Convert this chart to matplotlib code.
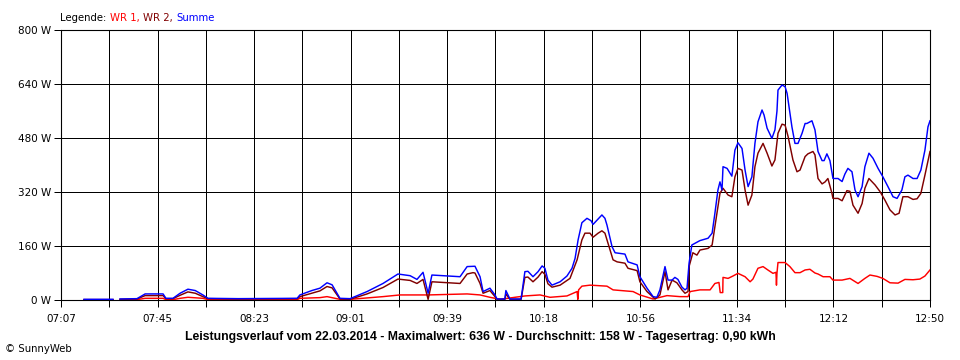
import numpy as np
import matplotlib
matplotlib.use("Agg")
import matplotlib.pyplot as plt
from matplotlib.offsetbox import TextArea, HPacker, AnchoredOffsetbox

plt.rcParams['font.family'] = ['DejaVu Sans']

# time axis: minutes after 07:07 (07:07 .. 12:50)
x_labels = ["07:07", "07:45", "08:23", "09:01", "09:39", "10:18", "10:56", "11:34", "12:12", "12:50"]
y_ticks = [0, 160, 320, 480, 640, 800]
y_labels = ["0 W", "160 W", "320 W", "480 W", "640 W", "800 W"]
t_end = 343.0

nan = np.nan

t_sum = [9.1, 20.5, 21.9, 23.3, 30, 33.2, 40.3, 41.4, 44.2, 47, 50.1, 53, 56, 58, 70, 93.2, 94.3, 99, 102.2, 105,
         107, 110.1, 114.1, 120.8, 127.1, 133, 137.8, 140.5, 142.9, 144.9, 146.4, 157.5, 160.3, 163.4, 165.4,
         166.6, 169.3, 171.3, 172.1, 175.2, 175.6, 177.2, 181.6, 183.1, 184.3, 186.3, 188.3, 189.9, 191, 192.2,
         193.8, 197, 199.7, 201.7, 202.9, 204.1, 205.6, 207.6, 209.2, 210, 211.6, 213.5, 214.7, 215.5, 217.5,
         218.7, 222.6, 223.8, 227.4, 228.5, 231.3, 233.7, 235.2, 236.4, 238.4, 239.6, 241.2, 242.3, 243.5, 245.1,
         246.3, 247.1, 247.9, 249, 250.2, 252.2, 255.4, 257, 258.1, 259.3, 260.1, 260.9, 261.3, 262.9, 264.8,
         266, 267.2, 268.8, 270, 271.2, 272.7, 273.9, 275.1, 276.7, 277.5, 278.7, 280.6, 281.8, 282.6, 283,
         284.6, 285.8, 286.6, 288.5, 289.7, 290.9, 292.5, 293.7, 294.4, 296.4, 297.6, 298.8, 300.4, 301.2, 302.3,
         303.5, 304.7, 306.7, 308.3, 309.4, 310.6, 312.2, 313.4, 314.6, 316.2, 317.3, 318.9, 320.5, 322.5, 324.4,
         326.4, 328.4, 330, 331.9, 333.1, 334.3, 336.3, 337.9, 339.4, 341, 342.2, 343]
summe = [2, 2, nan, 3, 4, 18, 18, 5, 5, 20, 32, 28, 15, 5, 4, 5, 15, 28, 35, 51,
         45, 5, 4, 25, 49, 77, 72, 61, 82, 20, 74, 69, 99, 100, 69,
         25, 35, 15, 3, 3, 28, 3, 3, 84, 85, 69, 84, 101, 94, 59,
         44, 54, 71, 94, 123, 178, 229, 242, 235, 224, 237, 252, 242, 222, 158,
         140, 136, 113, 104, 69, 35, 10, 8, 30, 99, 59, 59, 67, 61, 38,
         30, 35, 109, 163, 168, 176, 183, 198, 257, 326, 350, 326, 395, 390, 367,
         444, 466, 449, 385, 336, 365, 464, 528, 563, 548, 509, 479, 504, 560, 622,
         637, 632, 612, 513, 464, 464, 494, 523, 523, 531, 504, 440, 413, 413, 433,
         413, 360, 360, 351, 373, 390, 380, 326, 306, 336, 395, 435, 420, 390, 365,
         336, 306, 301, 326, 365, 370, 360, 360, 385, 444, 513, 531]

t_wr2 = [9.1, 20.5, 21.9, 23.3, 30, 33.2, 40.3, 41.4, 44.2, 47, 50.1, 53, 56, 58, 70, 93.2, 94.3, 99, 102.2, 105,
         107, 110.1, 114.1, 120.8, 127.1, 133, 137.8, 140.5, 142.9, 144.9, 146.4, 157.5, 160.3, 162.6, 163.4,
         165.4, 166.6, 169.3, 171.3, 172.1, 175.2, 175.6, 177.2, 181.6, 183.1, 184.3, 186.3, 188.3, 189.9, 191,
         192.2, 193.8, 197, 200.9, 203.7, 205.6, 206.8, 208.8, 210, 212, 213.5, 214.7, 215.9, 217.9, 219.5,
         222.6, 223.8, 227.4, 228.5, 231.3, 234.5, 236.4, 238.4, 239.6, 241.2, 243.1, 245.1, 246.3, 247.5, 247.9,
         249.4, 251, 252.2, 255.4, 257, 258.9, 260.1, 261.3, 263.3, 264.8, 266, 267.2, 268.8, 270, 271.2, 272.7,
         273.9, 275.1, 277.1, 278.7, 280.6, 281.8, 283, 284.6, 285.8, 287, 288.9, 290.5, 291.7, 293.7, 294.8,
         296.8, 297.6, 298.8, 300.4, 301.6, 302.7, 304.3, 304.7, 306.7, 308.3, 310.2, 311.4, 312.6, 314.6, 316.2,
         317.3, 318.9, 321.3, 323.3, 325.2, 327.2, 329.2, 330.8, 332.3, 334.3, 336.3, 337.9, 339.4, 341, 343]
wr2 = [1, 1, nan, 2, 3, 13, 13, 4, 4, 14, 24, 20, 10, 4, 3, 4, 10, 20, 27, 40,
       36, 3, 2, 18, 37, 62, 58, 49, 61, 2, 54, 49, 77, 81, 80,
       49, 20, 28, 10, 2, 2, 18, 2, 2, 67, 68, 54, 68, 84, 76,
       48, 38, 44, 64, 119, 178, 198, 198, 186, 198, 205, 198, 168, 119, 113,
       109, 94, 87, 54, 25, 3, 15, 84, 30, 59, 51, 30, 20, 25, 99,
       140, 133, 148, 153, 163, 257, 316, 331, 311, 306, 365, 390, 385, 326, 281, 311,
       395, 435, 464, 435, 397, 415, 494, 521, 518, 484, 415, 380, 385, 425, 433,
       440, 430, 360, 344, 350, 360, 316, 301, 301, 294, 324, 322, 281, 257, 286,
       331, 360, 341, 321, 296, 267, 252, 257, 306, 306, 298, 300, 316, 370, 440]

t_wr1 = [9.1, 20.5, 21.9, 23.3, 30, 33.2, 40.3, 41.4, 44.2, 47, 50.1, 56, 58, 70, 93.2, 94.3, 102.2, 105, 110.1,
         114.1, 127.1, 133.8, 145, 160.3, 165.4, 169.3, 171.3, 173.3, 183.1, 189.1, 193, 199.7, 203.7, 204.0,
         204.3, 205.6, 208.8, 215.5, 217.9, 225.8, 228.5, 233.7, 239.2, 244.3, 247.5, 248.3, 252.2, 256.2, 258.1,
         259.7, 260.2, 261.2, 261.3, 263.3, 265.2, 267.2, 270, 272, 273.1, 275.1, 277.1, 279, 281, 282.2, 282.4,
         282.6, 283, 285.8, 287.7, 289.7, 291.7, 293.7, 295.6, 297.6, 298.8, 300.8, 303.5, 304.7, 308.3, 311.4,
         314.6, 317.3, 319.3, 322.1, 324.4, 327.2, 330.4, 333.1, 336.3, 339, 341, 343]
wr1 = [1, 1, nan, 1, 1, 5, 5, 1, 1, 5, 8, 5, 1, 1, 1, 5, 7, 10, 2,
       2, 10, 15, 15, 18, 15, 8, 5, 2, 12, 15, 8, 12, 25, 2,
       30, 41, 44, 41, 30, 25, 15, 3, 13, 10, 10, 25, 30, 30, 49,
       52, 22, 22, 67, 64, 71, 79, 69, 54, 62, 94, 99, 89, 79, 82, 44,
       80, 111, 111, 99, 81, 81, 89, 91, 80, 77, 69, 69, 59, 59, 64,
       49, 64, 74, 70, 64, 51, 50, 61, 60, 62, 71, 89]

fig = plt.figure(figsize=(9.6, 3.6), dpi=100)
ax = fig.add_axes([61 / 960, 1 - 300 / 360, 869 / 960, 270 / 360])

ax.plot(t_wr1, wr1, color='#ff0000', lw=1.05, zorder=3)
ax.plot(t_wr2, wr2, color='#800000', lw=1.05, zorder=4)
ax.plot(t_sum, summe, color='#0000ff', lw=1.05, zorder=5)

ax.set_xlim(0, t_end)
ax.set_ylim(0, 800)

grid_x = np.linspace(0, t_end, 19)
ax.set_xticks(grid_x)
ax.set_xticklabels([x_labels[i // 2] if i % 2 == 0 else "" for i in range(19)])
ax.set_yticks(y_ticks)
ax.set_yticklabels(y_labels)
ax.grid(True, color='black', lw=0.72, antialiased=False)
ax.set_axisbelow(True)
ax.tick_params(axis='both', direction='out', length=5, width=0.72, color='black',
               labelsize=7.5)
ax.tick_params(axis='y', pad=2)
ax.tick_params(axis='x', pad=5)
for s in ax.spines.values():
    s.set_color('black')
    s.set_linewidth(0.8)

# legend line at top
fs_leg = 7.3
parts = [TextArea("Legende:", textprops=dict(color='black', size=fs_leg)),
         TextArea("WR 1,", textprops=dict(color='#ff0000', size=fs_leg)),
         TextArea("WR 2,", textprops=dict(color='#800000', size=fs_leg)),
         TextArea("Summe", textprops=dict(color='#0000ff', size=fs_leg))]
box = HPacker(children=parts, align='baseline', pad=0, sep=2.5)
anch = AnchoredOffsetbox(loc='lower left', child=box, pad=0, frameon=False,
                         bbox_to_anchor=(60 / 960, 1 - 23 / 360), bbox_transform=fig.transFigure,
                         borderpad=0)
fig.add_artist(anch)

fig.text(480 / 960, 1 - 337 / 360,
         "Leistungsverlauf vom 22.03.2014 - Maximalwert: 636 W - Durchschnitt: 158 W - Tagesertrag: 0,90 kWh",
         ha='center', va='center', fontsize=8.8, fontweight='bold', family='Liberation Sans')
fig.text(5 / 960, 1 - 349 / 360, "© SunnyWeb", ha='left', va='center', fontsize=7.3)

fig.savefig("out.png", dpi=100)
